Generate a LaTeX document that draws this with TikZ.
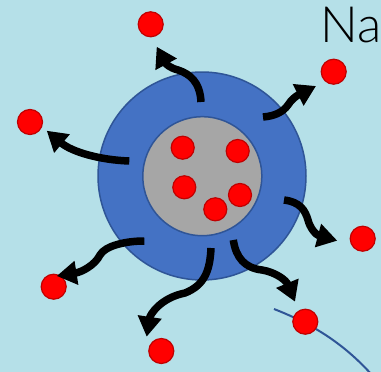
\documentclass[tikz,border=0pt]{standalone}
\usepackage{fontspec}
\newfontfamily\nafont{Lato Light}
\usetikzlibrary{arrows.meta}
\definecolor{bg}{RGB}{181,224,232}
\definecolor{shellblue}{RGB}{68,114,196}
\definecolor{edgeblue}{RGB}{47,85,151}
\definecolor{coregray}{RGB}{166,166,166}
\definecolor{dotred}{RGB}{255,0,0}
\definecolor{dotedge}{RGB}{192,0,0}
\tikzset{
  ion/.style={circle, fill=dotred, draw=dotedge, line width=1.2pt, inner sep=0pt, minimum size=25pt},
  coreion/.style={ion, minimum size=23pt},
  flow/.style={line width=7.5pt, black, -{Triangle[length=20pt,width=23pt]}},
}
\begin{document}
\begin{tikzpicture}[x=1pt,y=-1pt]
  \fill[bg] (0,0) rectangle (381,372);
  \useasboundingbox (0,0) rectangle (381,372);

  % particle: shell and core
  \node[circle, fill=shellblue, draw=edgeblue, line width=1.5pt, minimum size=208pt, inner sep=0pt] (shell) at (202,176) {};
  \node[circle, fill=coregray, draw=edgeblue, line width=1.5pt, minimum size=119pt, inner sep=0pt] (core) at (202.3,176.2) {};

  % ions inside the core
  \node[coreion] (c1) at (182.7,147.7) {};
  \node[coreion] (c2) at (237.7,151) {};
  \node[coreion] (c3) at (184.3,187.3) {};
  \node[coreion] (c4) at (240,195) {};
  \node[coreion] (c5) at (215.3,209.3) {};

  % boundary line
  \coordinate (b0) at (274,309);
  \coordinate (b1) at (372,375);
  \draw[edgeblue, line width=2pt] (b0) .. controls (315,325) and (345,345) .. (b1);

  % released ions
  \node[ion] (o1) at (150.7,24.3) {};
  \node[ion] (o2) at (333.7,71.7) {};
  \node[ion] (o3) at (30,122) {};
  \node[ion] (o4) at (362.7,238.7) {};
  \node[ion] (o5) at (53.7,286.7) {};
  \node[ion] (o6) at (161.3,351) {};
  \node[ion] (o7) at (305.3,321.7) {};

  % release paths
  \coordinate (s1) at (201,102);   \coordinate (e1) at (156.7,46.7);
  \coordinate (s2) at (263,117);   \coordinate (e2) at (316,86);
  \coordinate (s3) at (129.3,161); \coordinate (e3) at (46.7,130.7);
  \coordinate (s4) at (284,200);   \coordinate (e4) at (337.3,240.7);
  \coordinate (s5) at (144.3,241); \coordinate (e5) at (56.7,276);
  \coordinate (s6) at (211,248);   \coordinate (e6) at (146.7,336.7);
  \coordinate (s7) at (233.3,240); \coordinate (e7) at (295,301.7);

  \draw[flow] (s1) .. controls (200,82) and (190,74) .. (178,70) .. controls (170,68) and (166,64) .. (e1);
  \draw[flow] (s2) .. controls (275,116) and (283,112) .. (288,105) .. controls (291,100) and (296,96) .. (e2);
  \draw[flow] (s3) .. controls (100,160) and (72,152) .. (e3);
  \draw[flow] (s4) .. controls (300,202) and (305,210) .. (308,220) .. controls (310,228) and (316,235) .. (e4);
  \draw[flow] (s5) .. controls (125,241) and (105,246) .. (100,255) .. controls (95,265) and (82,272) .. (e5);
  \draw[flow] (s6) .. controls (210,270) and (205,285) .. (185,293) .. controls (160,298) and (150,315) .. (e6);
  \draw[flow] (s7) .. controls (236,258) and (245,268) .. (262,270) .. controls (275,272) and (286,280) .. (e7);

  % label
  \node[anchor=base west, inner sep=0pt, font=\nafont\fontsize{50}{52}\selectfont] (na) at (320,42) {Na};
\end{tikzpicture}
\end{document}
